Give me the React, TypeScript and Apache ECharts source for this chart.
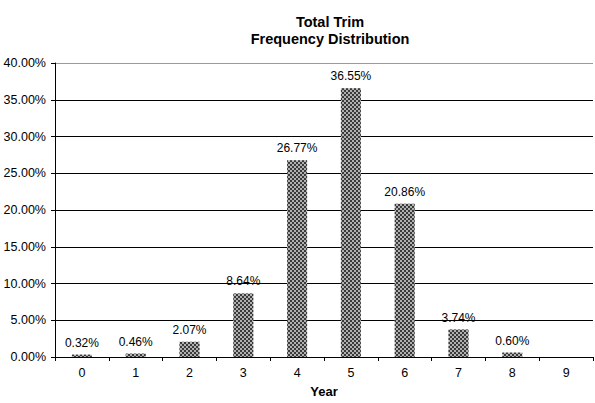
import React, { useEffect, useRef } from "react";
import * as echarts from "echarts";

const categories = ["0", "1", "2", "3", "4", "5", "6", "7", "8", "9"];
const values: (number | null)[] = [0.32, 0.46, 2.07, 8.64, 26.77, 36.55, 20.86, 3.74, 0.6, null];
const titleLines = ["Total Trim", "Frequency Distribution"];
const xName = "Year";

export default function App() {
  const ref = useRef<HTMLDivElement>(null);
  useEffect(() => {
    if (!ref.current) return;
    const chart = echarts.init(ref.current, null, { renderer: "svg" });
    const font = "Arial, 'Liberation Sans', sans-serif";
    chart.setOption({
      animation: false,
      backgroundColor: "#fff",
      aria: { enabled: true, decal: { show: true } },
      title: {
        text: titleLines.join("\n"),
        left: 325,
        textAlign: "center",
        top: 8,
        textStyle: { fontFamily: font, fontSize: 14.5, fontWeight: "bold", color: "#000", lineHeight: 17 },
      },
      grid: { left: 55, right: 2, top: 63, bottom: 41 },
      xAxis: {
        type: "category",
        data: categories,
        name: xName,
        nameLocation: "middle",
        nameGap: 28,
        nameTextStyle: { fontFamily: font, fontSize: 13, fontWeight: "bold", color: "#000" },
        axisLine: { lineStyle: { color: "#000", width: 1 } },
        axisTick: { show: true, length: 4, lineStyle: { color: "#000" } },
        axisLabel: { fontFamily: font, fontSize: 12.5, color: "#000", margin: 9 },
      },
      yAxis: {
        type: "value",
        min: 0,
        max: 40,
        interval: 5,
        axisLine: { show: true, lineStyle: { color: "#000", width: 1 } },
        axisTick: { show: true, length: 4, lineStyle: { color: "#000" } },
        axisLabel: {
          fontFamily: font,
          fontSize: 12.5,
          color: "#000",
          margin: 9,
          formatter: (v: number) => v.toFixed(2) + "%",
        },
        splitLine: {
          show: true,
          lineStyle: {
            color: ["#000", "#000", "#000", "#000", "#000", "#000", "#000", "#000", "#999"],
            width: 1,
          },
        },
      },
      series: [
        {
          type: "bar",
          data: values,
          barWidth: 20,
          itemStyle: {
            color: "#b0b0b0",
            decal: {
              symbol: "rect",
              symbolSize: 1,
              dashArrayX: [[2, 2], [0, 2, 2, 0]],
              dashArrayY: [2, 0],
              color: "#3a3a3a",
              rotation: 0,
            },
          },
          label: {
            show: true,
            position: "top",
            distance: 6,
            fontFamily: font,
            fontSize: 12,
            color: "#000",
            formatter: (p: any) => (p.value == null ? "" : Number(p.value).toFixed(2) + "%"),
          },
        },
      ],
    });
    return () => chart.dispose();
  }, []);
  return (
    <div
      ref={ref}
      style={{ position: "absolute", left: 0, top: 0, width: 595, height: 403 }}
    />
  );
}
